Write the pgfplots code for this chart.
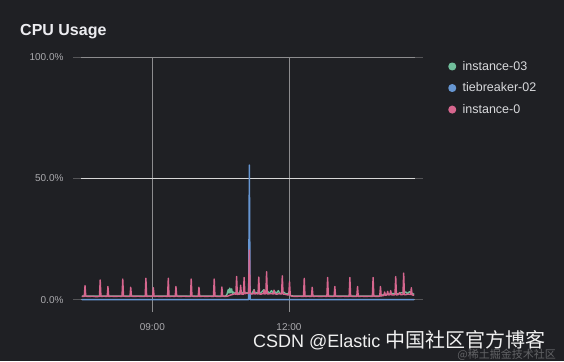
\documentclass[border=0pt]{standalone}
\usepackage{pgfplots}
\pgfplotsset{compat=1.18}
\usepackage{fontspec}
\setmainfont{Liberation Sans}
\newfontfamily\cjk{Noto Sans CJK SC}
\definecolor{bgc}{RGB}{31,32,36}
\definecolor{gridc}{RGB}{140,140,142}
\definecolor{gridlight}{RGB}{215,215,215}
\definecolor{tickc}{RGB}{85,85,88}
\definecolor{labelc}{RGB}{170,170,174}
\definecolor{legendc}{RGB}{216,217,220}
\definecolor{titlec}{RGB}{236,236,240}
\definecolor{greenc}{RGB}{112,190,155}
\definecolor{bluec}{RGB}{102,150,210}
\definecolor{pinkc}{RGB}{214,102,142}
\begin{document}
\begin{tikzpicture}
\fill[bgc] (0,0) rectangle (564pt,361pt);
\node[anchor=base west, inner sep=0pt, text=titlec, font=\bfseries\fontsize{16}{19}\selectfont] at (20pt,325pt) {CPU Usage};
\begin{axis}[
  at={(81pt,49pt)}, anchor=south west,
  scale only axis, width=334pt, height=255pt,
  xmin=446, xmax=886, ymin=-5, ymax=100,
  axis line style={draw=none},
  xtick={540,720}, xticklabels={09:00,12:00},
  ytick={0,100}, yticklabels={0.0\%,100.0\%},
  extra y ticks={50}, extra y tick labels={50.0\%},
  extra y tick style={grid style={color=gridlight, line width=0.9pt}},
  grid=major, grid style={color=gridc, line width=0.9pt},
  tick align=outside, major tick length=8pt,
  x tick style={draw=none},
  y tick style={color=tickc, line width=0.9pt},
  tick label style={font=\fontsize{10}{12}\selectfont, color=labelc},
  yticklabel style={xshift=-6pt},
  legend style={at={(rel axis cs:1.09,1)}, anchor=north west, draw=none, fill=none,
    font=\fontsize{12.5}{15}\selectfont, text=legendc, row sep=7pt},
  legend cell align=left,
  legend image code/.code={\fill[#1] (0.1cm,0pt) circle (3.3pt); \path[draw=none,fill=none] (0pt,0pt) -- (11.2pt,0pt);},
  every axis plot/.append style={line width=1.4pt, line join=round},
]
\addplot[greenc] coordinates {
(447,1.6) (550,1.6) (636,1.6) (638,2.0) (640,4.2) (641,2.8) (642,4.8) (643,3.0)
(644.5,4.5) (645.5,2.6) (647,3.2) (649,2.4) (652,3.0) (654,2.4) (656.5,4.0) (658,2.6)
(661,3.5) (663,2.6) (665,3.0) (667,2.5) (670,2.4) (672,3.0) (674,4.2) (675.5,2.6)
(678,3.0) (681,2.5) (684,3.2) (687,4.2) (688.5,2.6) (692,3.5) (694,2.6) (697,3.8)
(699,2.6) (701,3.5) (703,2.6) (706,3.8) (708,2.5) (713,3.2) (716,2.4) (719,2.6)
(722,1.8) (725,1.6) (840,1.6) (845,2.2) (852,2.4) (858,2.6) (863,2.5) (868,2.9)
(874,3.2) (876,2.6) (879,3.4) (882,2.6) (885,2.3)
};
\addlegendentry{instance-03}
\addplot[bluec] coordinates {
(447,0.1) (600,0.1) (666.8,0.1) (667.8,55.5) (668.8,0.1) (885,0.1)
};
\addlegendentry{tiebreaker-02}
\addplot[pinkc] coordinates {
(447,1.5) (449,1.4) (450.3,1.4) (451.3,5.9) (452.3,1.5) (456,1.4) (461,1.5) (466,1.3)
(470.3,1.4) (471.3,8.2) (472.3,1.4) (476,1.5) (480.5,1.4) (481.5,5.5) (482.5,1.4)
(486,1.5) (491,1.4) (496,1.5) (500,1.4) (501,8.6) (502,1.5) (506,1.4) (510.5,1.4)
(511.5,5.2) (512.5,1.5) (516,1.4) (521,1.5) (526,1.4) (530.5,1.4) (531.5,8.9)
(532.5,1.4) (536,1.5) (540.3,1.4) (541.3,5.0) (542.3,1.4) (546,1.5) (551,1.4)
(556,1.5) (560,1.4) (561,8.9) (562,1.4) (566,1.5) (570.1,1.4) (571.1,5.5) (572.1,1.5)
(576,1.4) (581,1.5) (586,1.4) (590.2,1.4) (591.2,8.6) (592.2,1.5) (596,1.4)
(600.4,1.4) (601.4,5.2) (602.4,1.4) (606,1.5) (611,1.4) (616,1.5) (620.5,1.4)
(621.5,8.6) (622.5,1.5) (626,1.4) (630.6,1.4) (631.6,5.3) (632.6,1.5) (636,1.4)
(640,1.6) (643,2.0) (646,2.2) (648,2.5) (650,2.3) (651,9.6) (652,2.2) (654,2.4)
(655.3,2.3) (656.3,6.0) (657.3,2.4) (659.9,2.3) (660.9,9.2) (661.9,2.5) (664,2.8)
(666.8,2.6) (667.8,20.5) (668.8,2.6) (671,2.4) (673,2.5) (674,4.0) (675,2.4)
(677,2.6) (679.2,2.4) (680.2,9.4) (681.2,2.5) (683,2.3) (685,2.6) (686.2,2.5)
(687.2,4.0) (688.2,2.4) (689.5,2.6) (690.5,11.6) (691.5,2.4) (694,2.5) (697,2.6)
(699.3,2.4) (700.3,4.0) (701.3,2.5) (704,2.3) (707,2.6) (710.2,2.4) (711.2,9.9)
(712.2,2.4) (715,2.3) (717,2.1) (719.7,2.0) (720.7,7.5) (721.7,1.8) (724,1.5)
(729,1.4) (734,1.5) (739.1,1.4) (740.1,8.9) (741.1,1.4) (745,1.5) (749.6,1.4)
(750.6,5.2) (751.6,1.4) (756,1.5) (761,1.4) (766,1.5) (769.9,1.4) (770.9,9.2)
(771.9,1.5) (776,1.4) (779.4,1.4) (780.4,5.5) (781.4,1.5) (786,1.4) (791,1.5)
(796,1.4) (799.2,1.4) (800.2,9.2) (801.2,1.5) (805,1.4) (809.3,1.4) (810.3,5.5)
(811.3,1.4) (816,1.5) (821,1.4) (826,1.5) (829.8,1.4) (830.8,9.2) (831.8,1.5)
(836,1.4) (839.5,1.5) (840.5,5.5) (841.5,1.6) (845,1.8) (846,3.2) (847,1.9)
(849,2.0) (850,3.5) (851,2.0) (853,2.1) (854,3.8) (855,2.1) (857,2.0) (859.6,2.1)
(860.6,9.6) (861.6,2.0) (864,2.2) (866,3.0) (867,2.1) (870.1,2.2) (871.1,11.0)
(872.1,2.1) (875,2.2) (877,2.4) (880.2,2.2) (881.2,5.0) (882.2,2.0) (885,1.9)
};
\addlegendentry{instance-0}
\end{axis}
\node[anchor=base west, inner sep=0pt, text=white!94!black] at (253pt,14pt)
  {\fontsize{18}{22}\selectfont CSDN @Elastic {\cjk\fontsize{20}{24}\selectfont 中国社区官方博客}};
\node[anchor=base east, inner sep=0pt, text=white!30!bgc] at (556pt,3pt)
  {\cjk\fontsize{11}{13}\selectfont @稀土掘金技术社区};
\pgfresetboundingbox
\useasboundingbox (0,0) rectangle (564pt,361pt);
\end{tikzpicture}
\end{document}
